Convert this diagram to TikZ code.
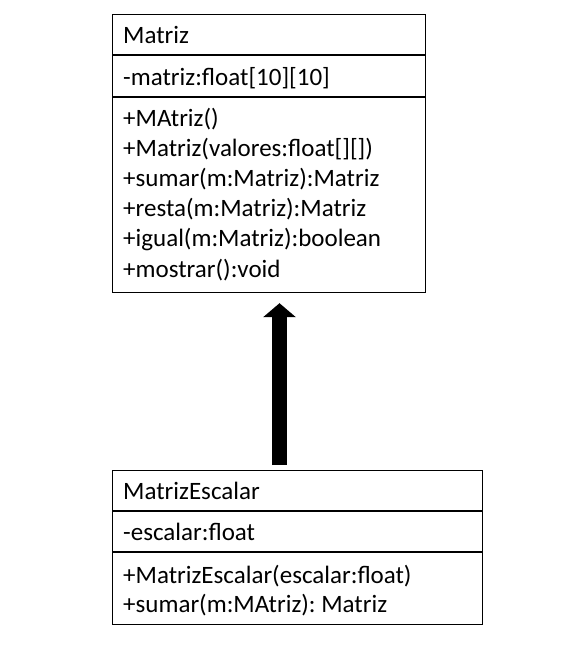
\documentclass[tikz,border=0pt]{standalone}
\usepackage{fontspec}
\setmainfont{Carlito}
\usetikzlibrary{arrows.meta}
\frenchspacing

\tikzset{
  clase/.style={draw, line width=1.2pt, inner sep=0pt, anchor=north west},
  sep/.style={line width=1.2pt},
  texto/.style={anchor=base west, inner sep=0pt, font=\fontsize{25}{30}\selectfont},
  herencia/.style={line width=15pt, -{Triangle[width=32pt,length=14pt]}, shorten <=5pt, shorten >=10pt}
}

\begin{document}
\begin{tikzpicture}[x=1pt,y=-1pt]
    \useasboundingbox (0,0) rectangle (577,651);

    % clase Matriz
    \node[clase, minimum width=313pt, minimum height=278.5pt] (matriz) at (112,13.5) {};
    \draw[sep] (112,55) -- (425,55);
    \draw[sep] (112,97) -- (425,97);
    \node[texto] (mtitulo) at (123,43) {Matriz};
    \node[texto] (mattr) at (123,85) {-matriz:float[10][10]};
    \foreach \txt [count=\i] in {{+MAtriz()}, {+Matriz(valores:float[][])},
        {+sumar(m:Matriz):Matriz}, {+resta(m:Matriz):Matriz},
        {+igual(m:Matriz):boolean}, {+mostrar():void}} {
        \node[texto] (mmet\i) at (123, {126+(\i-1)*30.2}) {\txt};
    }

    % clase MatrizEscalar
    \node[clase, minimum width=370pt, minimum height=154pt] (escalar) at (112,470) {};
    \draw[sep] (112,511) -- (482,511);
    \draw[sep] (112,552) -- (482,552);
    \node[texto] (etitulo) at (123,499) {MatrizEscalar};
    \node[texto] (eattr) at (123,540) {-escalar:float};
    \node[texto] (emet1) at (123,583) {+MatrizEscalar(escalar:float)};
    \node[texto] (emet2) at (123,612) {+sumar(m:MAtriz): Matriz};

    % herencia
    \coordinate (eje) at (279.5,0);
    \draw[herencia] (escalar.north -| eje) -- (matriz.south -| eje);
\end{tikzpicture}
\end{document}
